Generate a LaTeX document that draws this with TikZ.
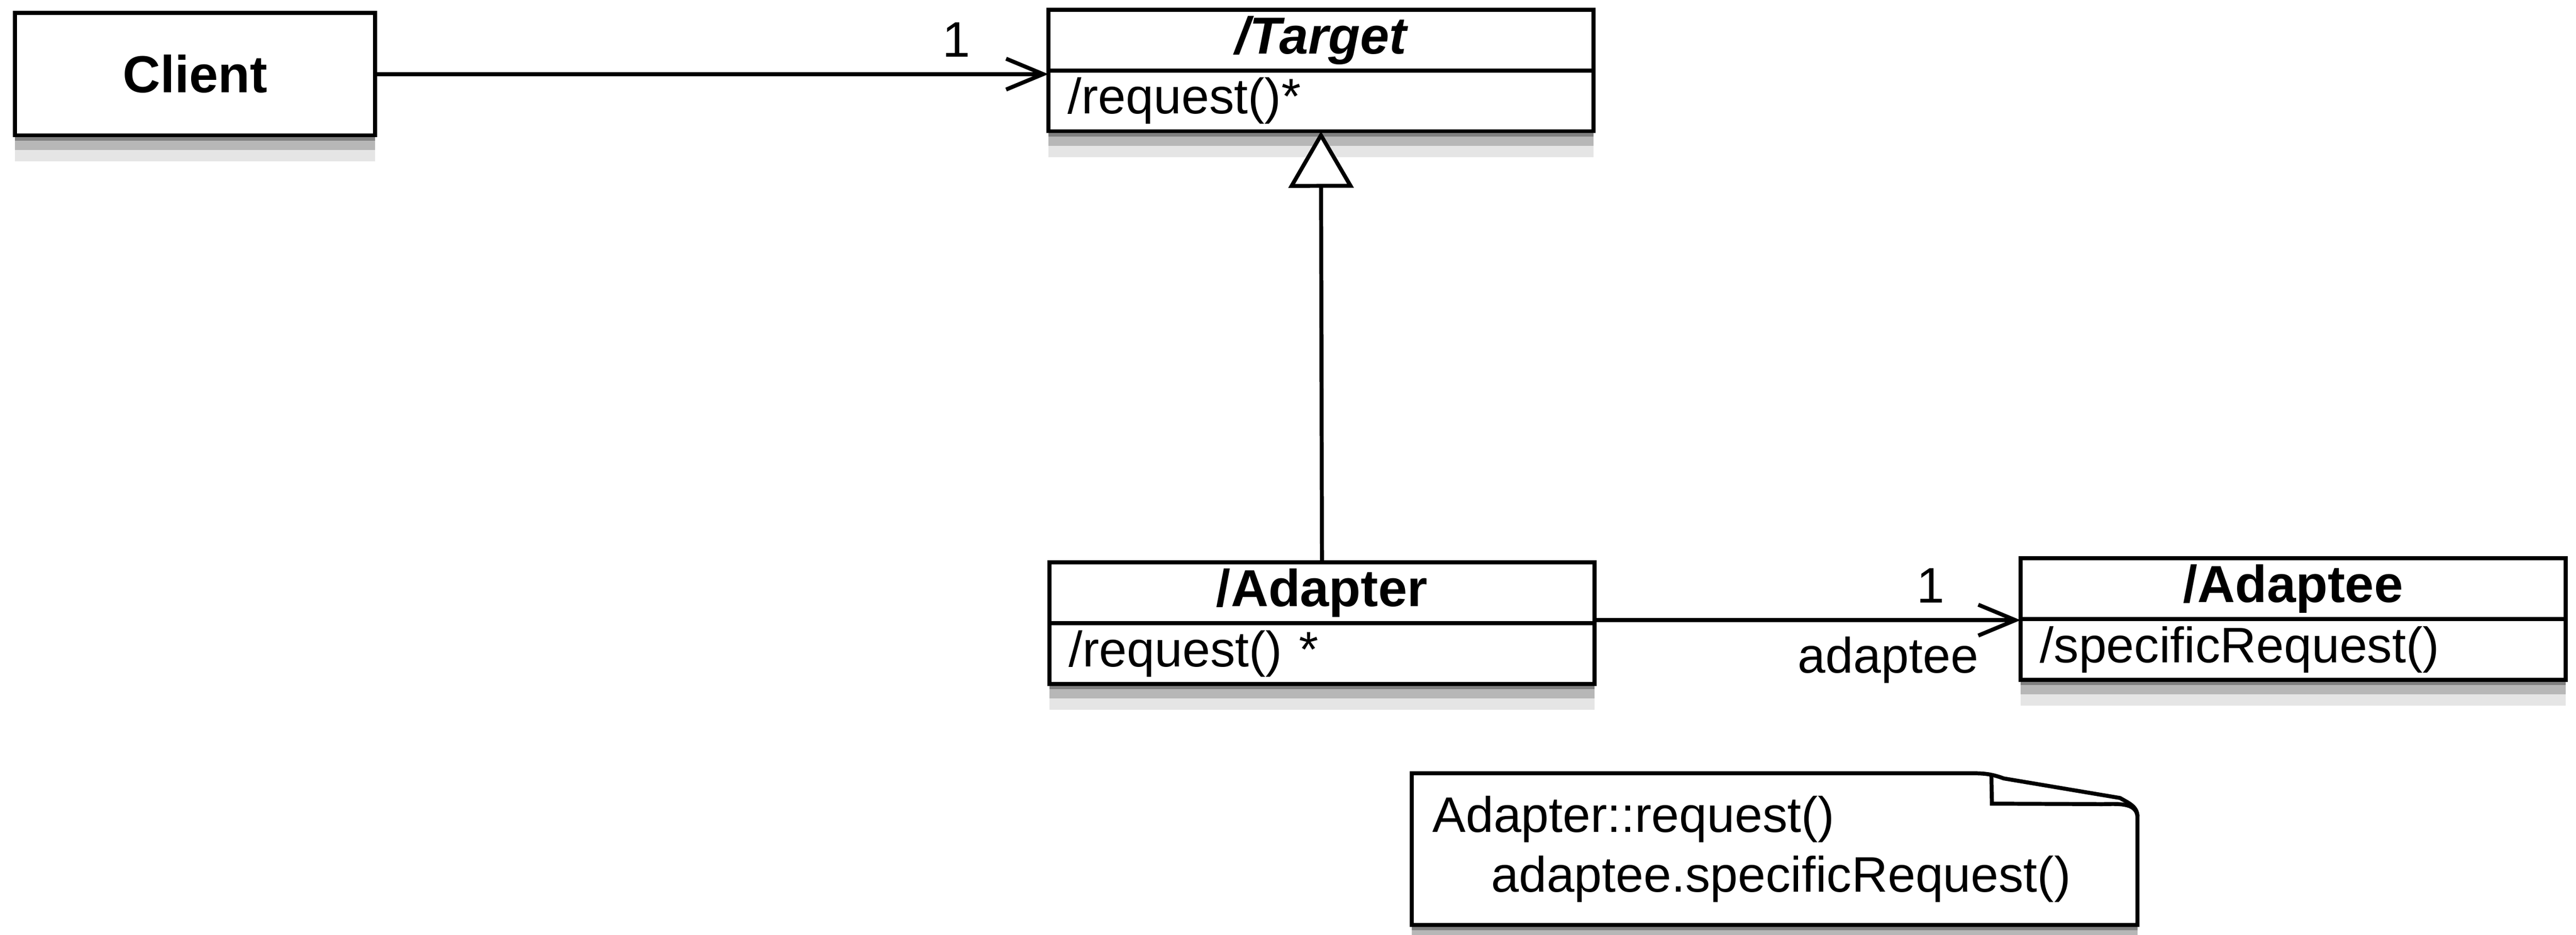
\documentclass[tikz,border=0pt]{standalone}
\usepackage{fontspec}
\setmainfont{Liberation Sans}
\usetikzlibrary{positioning,arrows.meta,shadows,backgrounds}

\begin{document}
\begin{tikzpicture}[
	soft_shadow/.style={drop shadow={shadow xshift=0pt,shadow yshift=-0.05cm,opacity=0.3,fill=black},drop shadow={shadow xshift=0pt,shadow yshift=-0.14cm,opacity=0.2,fill=black},drop shadow={shadow xshift=0pt,shadow yshift=-0.25cm,opacity=0.1,fill=black}},
	class_name/.style={draw,fill=white,line width=1.1pt,outer sep=0pt,soft_shadow,minimum width=5.3cm,minimum height=0.59cm,inner sep=0pt,font=\fontsize{14.4}{17}\selectfont\bfseries},
	class_ops/.style={draw,fill=white,line width=1.1pt,outer sep=0pt,soft_shadow,text width=4.92cm,minimum height=0.59cm,inner xsep=0.19cm,inner ysep=0pt,align=left,font=\fontsize{13.8}{16.6}\selectfont},
	assoc/.style={line width=1.1pt,-{Straight Barb[length=0.36cm,width=0.3cm,line width=1.1pt]}},
	inherit/.style={line width=1.1pt,-{Triangle[open,fill=white,length=0.55cm,width=0.63cm,line width=1.1pt]}},
	mult/.style={inner sep=0.1cm,font=\fontsize{13.8}{16.6}\selectfont},
	note_box/.style={draw,fill=white,line width=1.1pt,soft_shadow},
	note_text/.style={text width=6.65cm,minimum width=7.04cm,minimum height=1.46cm,inner xsep=0.195cm,align=left,font=\fontsize{13.8}{16.6}\selectfont}]
	
	\useasboundingbox (0,0) rectangle (25.04,-9.08);
	
	\node[class_name,minimum width=3.5cm,minimum height=1.19cm] (client) at (1.895,-0.72) {Client};
	\node[class_name,font=\fontsize{14.4}{17}\selectfont\bfseries\itshape] (target) at (12.84,-0.39) {/Target};
	\node[class_ops,below=0pt of target] (target-ops) {/request()*};
	\node[class_name] (adapter) at (12.85,-5.76) {/Adapter};
	\node[class_ops,below=0pt of adapter] (adapter-ops) {/request() *};
	\node[class_name] (adaptee) at (22.29,-5.72) {/Adaptee};
	\node[class_ops,below=0pt of adaptee] (adaptee-ops) {/specificRequest()};
	\node[note_text] (note) at (17.25,-8.25) {Adapter::request()\\\hspace*{0.57cm}adaptee.specificRequest()};
	
	\draw[assoc] (client.east) -- (client.east -| target.west) node[mult,pos=1,above left,xshift=-0.64cm,yshift=0.045cm] (target-mult) {1};
	\draw[assoc] ([yshift=0.03cm]adapter.south east) -- ([yshift=0.03cm]adapter.south east -| adaptee.west) node[mult,pos=1,above left,xshift=-0.62cm,yshift=0.05cm] (adaptee-mult) {1} node[mult,pos=1,below left,xshift=-0.29cm,yshift=-0.04cm] (adaptee-role) {adaptee};
	\draw[inherit] (adapter.north) -- (target-ops.south);
	
	\begin{scope}[on background layer]
		\draw[note_box] (note.south west) -- (note.north west) -- ([xshift=-1.6cm]note.north east) to[out=0,in=160] ([shift={(-1.3cm,-0.05cm)}]note.north east) -- ([shift={(-0.17cm,-0.24cm)}]note.north east) to[out=-30,in=90] ([yshift=-0.42cm]note.north east) -- (note.south east) -- cycle;
		\draw[line width=1.1pt] ([shift={(-1.42cm,-0.02cm)}]note.north east) -- ([shift={(-1.415cm,-0.295cm)}]note.north east) -- ([shift={(-0.35cm,-0.3cm)}]note.north east) to[out=0,in=95] ([yshift=-0.42cm]note.north east);
	\end{scope}
\end{tikzpicture}
\end{document}
